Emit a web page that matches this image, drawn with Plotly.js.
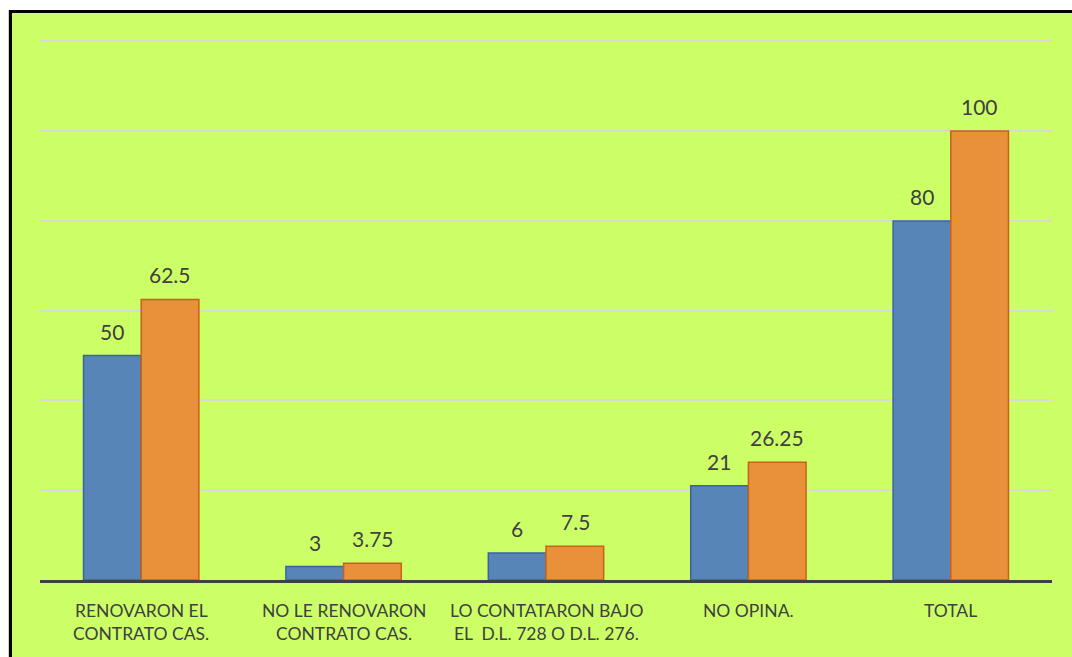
<!DOCTYPE html>
<html>
<head>
<meta charset="utf-8">
<script src="https://cdn.plot.ly/plotly-3.0.1.min.js"></script>
<style>
  html, body { margin: 0; padding: 0; background: #ffffff; width: 1072px; height: 657px; overflow: hidden; }
  #chart { position: absolute; left: 0; top: 0; width: 1072px; height: 657px; }
</style>
</head>
<body>
<div id="chart"></div>
<script>
// Categories (each split into its two printed lines) and the two series
const categories = [
  "RENOVARON EL CONTRATO CAS.",
  "NO LE RENOVARON CONTRATO CAS.",
  "LO CONTATARON BAJO EL  D.L. 728 O D.L. 276.",
  "NO OPINA.",
  "TOTAL"
];
const categoryLines = [
  ["RENOVARON EL", "CONTRATO CAS."],
  ["NO LE RENOVARON", "CONTRATO CAS."],
  ["LO CONTATARON BAJO", "EL  D.L. 728 O D.L. 276."],
  ["NO OPINA."],
  ["TOTAL"]
];
const seriesCount = [50, 3, 6, 21, 80];
const seriesPercent = [62.5, 3.75, 7.5, 26.25, 100];

const W = 1072, H = 657;
const M = { l: 40, r: 20, t: 40, b: 77 };
const fontFamily = "Lato, 'Open Sans', sans-serif";
const labelFont = { family: fontFamily, size: 21, color: "#404040" };
const catFont = { family: fontFamily, size: 17.5, color: "#404040" };

const traces = [
  {
    type: "bar", x: categories, y: seriesCount, name: "N",
    marker: { color: "#5885B8", line: { color: "#3A64A0", width: 1.5 } },
    hoverinfo: "y"
  },
  {
    type: "bar", x: categories, y: seriesPercent, name: "%",
    marker: { color: "#E8903A", line: { color: "#C8621A", width: 1.5 } },
    hoverinfo: "y"
  }
];

const annotations = [];
// Value labels above each bar, offset to the left/right bar of each group
[[seriesCount, -29], [seriesPercent, 29]].forEach(([vals, dx]) => {
  vals.forEach((v, i) => {
    annotations.push({
      x: categories[i], y: v, xref: "x", yref: "y",
      text: String(v), showarrow: false,
      xshift: dx, yshift: 10, yanchor: "bottom",
      font: labelFont
    });
  });
});
// Category labels under the axis, one annotation per printed line
categoryLines.forEach((lines, i) => {
  lines.forEach((line, k) => {
    annotations.push({
      x: categories[i], y: 0, xref: "x", yref: "paper",
      text: line, showarrow: false,
      yanchor: "middle", yshift: -30 - 23.5 * k,
      font: catFont
    });
  });
});

// Page frame: white margin strip on the top/left with a black rule inside it
const pw = W - M.l - M.r, ph = H - M.t - M.b;
const px = p => (p - M.l) / pw;
const py = p => (H - M.b - p) / ph;
const rect = (x0, y0, x1, y1, color) => ({
  type: "rect", xref: "paper", yref: "paper", layer: "above",
  x0: px(x0), x1: px(x1), y0: py(y1), y1: py(y0),
  fillcolor: color, line: { width: 0 }
});
const shapes = [
  rect(0, 0, 9, H, "#ffffff"),
  rect(0, 0, W, 10, "#ffffff"),
  rect(8, 10, 9, H, "#D0D0D0"),
  rect(9, 10, 12, H, "#000000"),
  rect(9, 10, W, 13, "#000000")
];

const layout = {
  width: W, height: H,
  margin: M,
  paper_bgcolor: "#CCFF66", plot_bgcolor: "#CCFF66",
  barmode: "group", bargap: 0.43, bargroupgap: 0,
  showlegend: false,
  xaxis: {
    type: "category",
    showline: true, linecolor: "#404040", linewidth: 3,
    ticks: "", showgrid: false, showticklabels: false
  },
  yaxis: {
    range: [0, 120.3], tickvals: [20, 40, 60, 80, 100, 120],
    showgrid: true, gridcolor: "#D9D9D9", gridwidth: 2,
    zeroline: false, showticklabels: false, ticks: ""
  },
  annotations: annotations,
  shapes: shapes
};

Plotly.newPlot("chart", traces, layout, { displayModeBar: false, staticPlot: true });
</script>
</body>
</html>
